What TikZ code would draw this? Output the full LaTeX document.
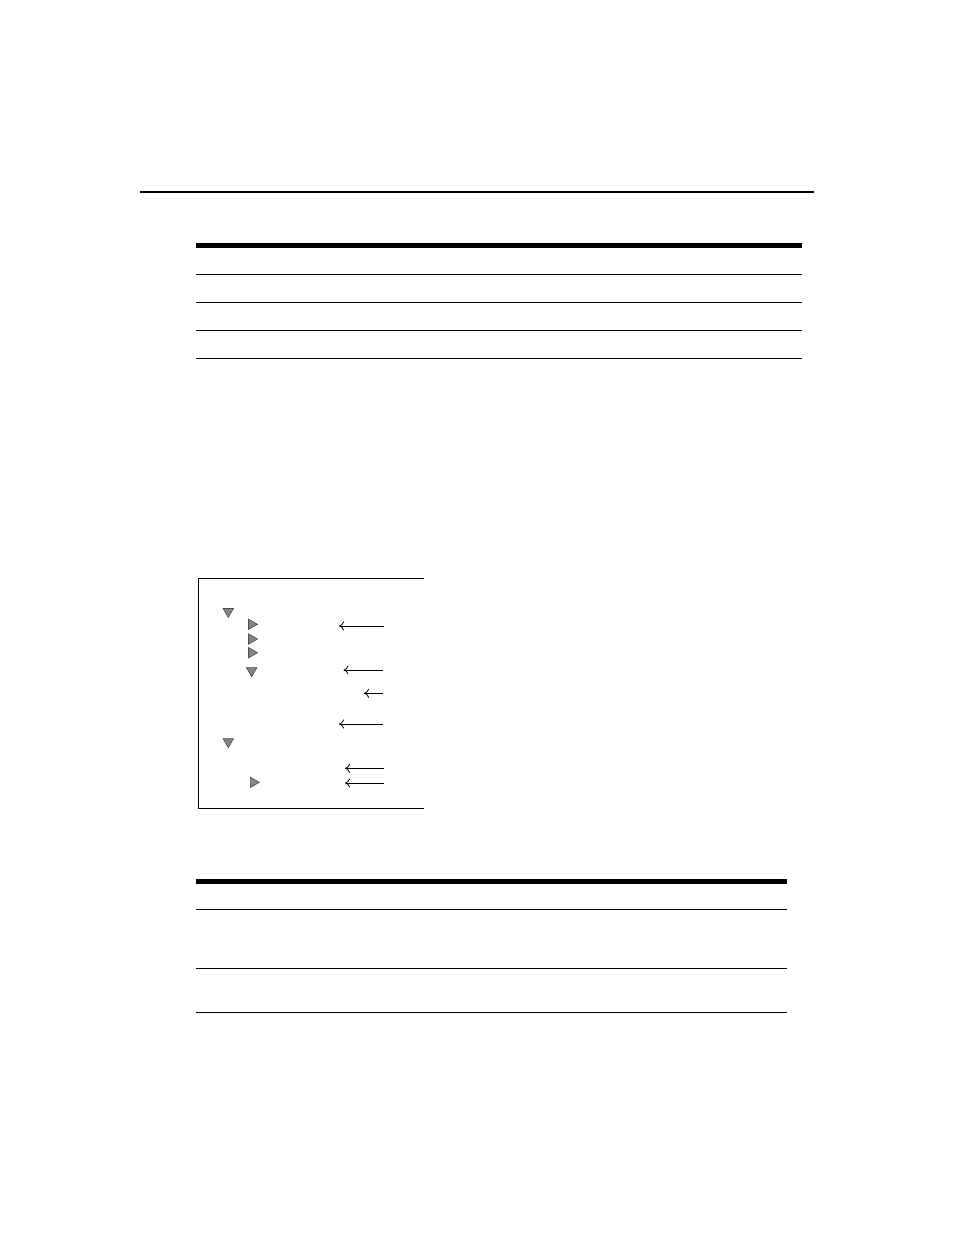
\documentclass[tikz,border=0pt]{standalone}
\usetikzlibrary{shapes.geometric,arrows.meta}
\begin{document}
\begin{tikzpicture}[x=1pt,y=-1pt,
  thinrule/.style={line width=1pt},
  thickrule/.style={line width=5pt},
  toprule/.style={line width=2pt},
  boxline/.style={line width=1pt},
  tri/.style={isosceles triangle, isosceles triangle apex angle=60, draw=black!70, fill=black!48, line width=0.6pt, inner sep=0pt, minimum width=9pt, minimum height=9pt},
  tridown/.style={tri, shape border rotate=270},
  triright/.style={tri},
  arr/.style={line width=0.8pt, -{To[length=5pt,width=9pt]}}
]
\useasboundingbox (0,0) rectangle (954,1235);
% top rule
\draw[toprule] (140,191.5) -- (814,191.5);
% table 1
\draw[thickrule] (196,245.5) -- (802,245.5);
\foreach \y in {274,302,330,358} \draw[thinrule] (196,\y) -- (802,\y);
% box
\draw[boxline] (424,578) -- (198.5,578) -- (198.5,808) -- (424,808);
% triangles
\node[tridown]  (t1) at (228.3,611.5) {};
\node[triright] (t2) at (251.5,624.3) {};
\node[triright] (t3) at (251.5,639) {};
\node[triright] (t4) at (251.5,652.7) {};
\node[tridown]  (t5) at (251.7,670.7) {};
\node[tridown]  (t6) at (228.3,741.7) {};
\node[triright] (t7) at (253.3,782.3) {};
% arrows
\coordinate (a1s) at (384,626);   \coordinate (a1e) at (339,626);
\coordinate (a2s) at (383,670);   \coordinate (a2e) at (343.5,670);
\coordinate (a3s) at (383,693.3); \coordinate (a3e) at (364,693.3);
\coordinate (a4s) at (383,724);   \coordinate (a4e) at (339,724);
\coordinate (a5s) at (384,768.3); \coordinate (a5e) at (345,768.3);
\coordinate (a6s) at (384,783);   \coordinate (a6e) at (345,783);
\foreach \i in {1,...,6} \draw[arr] (a\i s) -- (a\i e);
% table 2
\draw[thickrule] (196,881.5) -- (787,881.5);
\foreach \y in {909,968,1012} \draw[thinrule] (196,\y) -- (787,\y);
\end{tikzpicture}
\end{document}
